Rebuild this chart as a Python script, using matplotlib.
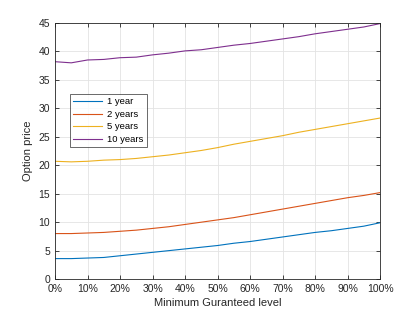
import numpy as np
import matplotlib
matplotlib.use('Agg')
import matplotlib.pyplot as plt
from matplotlib.ticker import FuncFormatter

# Data
level = [0, 5, 10, 15, 20, 25, 30, 35, 40, 45, 50, 55, 60, 65, 70, 75, 80, 85, 90, 95, 100]
year1 = [3.6, 3.6, 3.7, 3.8, 4.1, 4.4, 4.7, 5.0, 5.3, 5.6, 5.9, 6.3, 6.6, 7.0, 7.4, 7.8, 8.2, 8.5, 8.9, 9.3, 9.9]
year2 = [8.0, 8.0, 8.1, 8.2, 8.4, 8.6, 8.9, 9.2, 9.6, 10.0, 10.4, 10.8, 11.3, 11.8, 12.3, 12.8, 13.3, 13.8, 14.3, 14.7, 15.2]
year5 = [20.7, 20.6, 20.7, 20.9, 21.0, 21.2, 21.5, 21.8, 22.2, 22.6, 23.1, 23.7, 24.2, 24.7, 25.2, 25.8, 26.3, 26.8, 27.3, 27.8, 28.3]
year10 = [38.2, 38.0, 38.5, 38.6, 38.9, 39.0, 39.4, 39.7, 40.1, 40.3, 40.7, 41.1, 41.4, 41.8, 42.2, 42.6, 43.1, 43.5, 43.9, 44.3, 44.9]
series_labels = ['1 year', '2 years', '5 years', '10 years']
colors = ['#0072BD', '#D95319', '#EDB120', '#7E2F8E']

plt.rcParams['font.family'] = ['Liberation Sans', 'DejaVu Sans']
plt.rcParams['font.size'] = 7.5

fig = plt.figure(figsize=(4.2, 3.15), dpi=100)
ax = fig.add_axes([0.131, 0.114, 0.774, 0.813])

for ys, lab, c in zip([year1, year2, year5, year10], series_labels, colors):
    ax.plot(level, ys, color=c, lw=0.8, label=lab)

ax.set_xlim(0, 100)
ax.set_ylim(0, 45)
ax.set_xticks(np.arange(0, 101, 10))
ax.set_yticks(np.arange(0, 46, 5))
ax.xaxis.set_major_formatter(FuncFormatter(lambda v, p: f"{int(v)}%"))
ax.grid(True, color='#e3e3e3', lw=0.6)
ax.set_axisbelow(True)
ax.tick_params(direction='in', length=3, width=0.6, top=True, right=True,
               colors='#262626', labelsize=7.5)
for s in ax.spines.values():
    s.set_color('#262626')
    s.set_linewidth(0.6)

ax.set_xlabel('Minimum Guranteed level', fontsize=8, color='#262626', labelpad=3)
ax.set_ylabel('Option price', fontsize=8, color='#262626', labelpad=4)

leg = ax.legend(loc='upper left', bbox_to_anchor=(0.046, 0.723), fontsize=6.8,
                frameon=True, fancybox=False, edgecolor='#262626',
                handlelength=3.0, handletextpad=0.6, borderpad=0.35,
                labelspacing=0.38, borderaxespad=0)
leg.get_frame().set_linewidth(0.6)

plt.savefig('out.png', dpi=100)
plt.close()
